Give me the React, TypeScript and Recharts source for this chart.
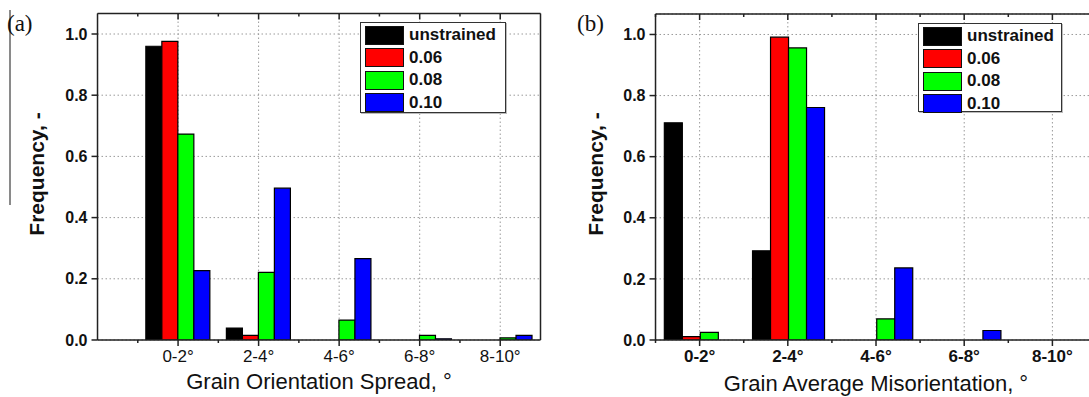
import React from 'react';
import { BarChart, Bar, XAxis, YAxis, CartesianGrid } from 'recharts';

const categories = ['0-2°', '2-4°', '4-6°', '6-8°', '8-10°'];
const seriesNames = ['unstrained', '0.06', '0.08', '0.10'];
const seriesColors = ['#000000', '#ff0000', '#00ff00', '#0000ff'];

// (a) grain orientation spread
const gosUnstrained = [0.96, 0.039, 0, 0, 0];
const gos006 = [0.976, 0.015, 0, 0, 0];
const gos008 = [0.673, 0.221, 0.065, 0.015, 0.007];
const gos010 = [0.227, 0.496, 0.266, 0.004, 0.015];

// (b) grain average misorientation
const gamUnstrained = [0.711, 0.292, 0, 0, 0];
const gam006 = [0.011, 0.991, 0, 0, 0];
const gam008 = [0.025, 0.956, 0.069, 0, 0];
const gam010 = [0, 0.761, 0.236, 0.031, 0];

const yMajor = [0, 0.2, 0.4, 0.6, 0.8, 1.0];
const yMinor = [0.1, 0.3, 0.5, 0.7, 0.9];
const yTop = 1.067;

const font = '"Liberation Sans", Arial, sans-serif';
const axisColor = '#222';
// axes must have a non-zero size or recharts skips drawing them
const thin = 0.01;

const toRows = (series: number[][]) =>
  categories.map((cat, i) => {
    const row: Record<string, any> = { cat };
    series.forEach((s, k) => (row['s' + k] = s[i]));
    return row;
  });

// category tick: major mark at the centre, minor mark at the band edge, label below
const xTick = (props: any, band: number, top: boolean, bold: boolean) => {
  const { x, y, payload } = props;
  const dir = top ? 1 : 1; // top axis ticks point inward (down), bottom ones outward (down)
  return (
    <g>
      <line x1={x} y1={y} x2={x} y2={y + 6 * dir} stroke={axisColor} strokeWidth={1.5} />
      <line x1={x - band / 2} y1={y} x2={x - band / 2} y2={y + 3 * dir} stroke={axisColor} strokeWidth={1.5} />
      {!top && (
        <text x={x} y={y + 22} textAnchor="middle" fontFamily={font} fontSize={17}
          fontWeight={bold ? 700 : 400} fill="#111">{payload.value}</text>
      )}
    </g>
  );
};

type PanelProps = {
  left: number;
  width: number;
  margin: { top: number; right: number; bottom: number; left: number };
  xDomain: [number, number];
  series: number[][];
  tag: string;
  tagLeft: number;
  yTitleX: number;
  xTitle: string;
  xTitleTop: number;
  legendBox: { left: number; top: number; width: number; height: number };
  boldX: boolean;
};

const Panel: React.FC<PanelProps> = (p) => {
  const data = toRows(p.series);
  const plotW = p.width - p.margin.left - p.margin.right;
  const span = p.xDomain[1] - p.xDomain[0];
  const band = plotW / span;
  const padL = Math.max(0, -p.xDomain[0] * band - band / 2);
  const padR = Math.max(0, (p.xDomain[1] - (categories.length - 1)) * band - band / 2);
  const plotCx = p.left + p.margin.left + plotW / 2;
  const plotCy = (p.margin.top + (397 - p.margin.bottom)) / 2;
  const line = { stroke: axisColor, strokeWidth: 1.5 };

  return (
    <>
      <div style={{ position: 'absolute', left: p.left, top: 0 }}>
        <BarChart width={p.width} height={397} data={data} margin={p.margin}
          barCategoryGap="10%" barGap={0}>
          <CartesianGrid xAxisId="x" yAxisId="y" stroke="#9a9a9a" strokeDasharray="1.5 2.5" />
          <XAxis xAxisId="x" dataKey="cat" height={thin} interval={0} padding={{ left: padL, right: padR }}
            tickSize={0} tickMargin={0} tickLine={false} axisLine={line}
            tick={(t: any) => xTick(t, band, false, p.boldX)} />
          <XAxis xAxisId="xt" dataKey="cat" orientation="top" mirror height={thin} interval={0}
            padding={{ left: padL, right: padR }} tickSize={0} tickMargin={0} tickLine={false} axisLine={line}
            tick={(t: any) => xTick(t, band, true, false)} />
          <YAxis yAxisId="y" domain={[0, yTop]} ticks={yMajor} allowDataOverflow width={thin} interval={0}
            tickSize={6} tickMargin={4} axisLine={line} tickLine={line}
            tickFormatter={(v: number) => v.toFixed(1)}
            tick={{ fontSize: 16, fontFamily: font, fill: '#111', fontWeight: 700 }} />
          <YAxis yAxisId="ym" domain={[0, yTop]} ticks={yMinor} allowDataOverflow width={thin} interval={0}
            tickSize={3} axisLine={false} tickLine={line} tick={false} />
          <YAxis yAxisId="yr" orientation="right" mirror domain={[0, yTop]} ticks={yMajor} allowDataOverflow
            width={thin} interval={0} tickSize={6} axisLine={line} tickLine={line} tick={false} />
          <YAxis yAxisId="yrm" orientation="right" mirror domain={[0, yTop]} ticks={yMinor} allowDataOverflow
            width={thin} interval={0} tickSize={3} axisLine={false} tickLine={line} tick={false} />
          {seriesNames.map((name, k) => (
            <Bar key={name} name={name} dataKey={'s' + k} xAxisId="x" yAxisId="y"
              fill={seriesColors[k]} stroke="#000" strokeWidth={1.2} isAnimationActive={false} />
          ))}
        </BarChart>
      </div>

      <div style={{ position: 'absolute', left: p.tagLeft, top: 12, fontFamily: '"Liberation Serif", "Times New Roman", serif',
        fontSize: 23, lineHeight: '23px', color: '#111' }}>{p.tag}</div>

      <div style={{ position: 'absolute', left: p.yTitleX, top: plotCy - 3, transform: 'translate(-50%, -50%) rotate(-90deg)',
        fontFamily: font, fontWeight: 700, fontSize: 21, lineHeight: '21px', whiteSpace: 'nowrap', color: '#111' }}>
        Frequency, -
      </div>

      <div style={{ position: 'absolute', left: plotCx, top: p.xTitleTop, transform: 'translateX(-50%)',
        fontFamily: font, fontSize: 22, lineHeight: '22px', whiteSpace: 'nowrap', color: '#111' }}>
        {p.xTitle}
      </div>

      <div style={{ position: 'absolute', ...p.legendBox, boxSizing: 'border-box', border: '1.5px solid #333',
        background: '#fff', boxShadow: '1px 1px 0 #bbb' }}>
        {seriesNames.map((name, k) => (
          <div key={name} style={{ position: 'absolute', left: 4, top: 2 + k * 22.6, height: 20, display: 'flex', alignItems: 'center' }}>
            <div style={{ width: 39, height: 19, boxSizing: 'border-box', background: seriesColors[k], border: '1.5px solid #111' }} />
            <span style={{ marginLeft: 5, fontFamily: font, fontWeight: 700, fontSize: 17, lineHeight: '20px', color: '#111' }}>{name}</span>
          </div>
        ))}
      </div>
    </>
  );
};

export default function App() {
  return (
    <div style={{ position: 'fixed', left: 0, top: 0, width: 1089, height: 397, overflow: 'hidden', background: '#fff' }}>
      <div style={{ position: 'absolute', left: 9, top: 10, width: 2, height: 195, background: '#8a8a8a' }} />
      <Panel
        left={0}
        width={560}
        margin={{ top: 13.5, right: 19.5, bottom: 57, left: 97.5 }}
        xDomain={[-1, 4.5]}
        series={[gosUnstrained, gos006, gos008, gos010]}
        tag="(a)"
        tagLeft={7}
        yTitleX={36}
        xTitle="Grain Orientation Spread, °"
        xTitleTop={371}
        legendBox={{ left: 360, top: 22, width: 146, height: 91 }}
        boldX={false}
      />
      <Panel
        left={560}
        width={560}
        margin={{ top: 14, right: 23.5, bottom: 57, left: 95.5 }}
        xDomain={[-0.5, 4.5]}
        series={[gamUnstrained, gam006, gam008, gam010]}
        tag="(b)"
        tagLeft={577}
        yTitleX={595}
        xTitle="Grain Average Misorientation, °"
        xTitleTop={373}
        legendBox={{ left: 918, top: 23, width: 144, height: 89 }}
        boldX={true}
      />
    </div>
  );
}
